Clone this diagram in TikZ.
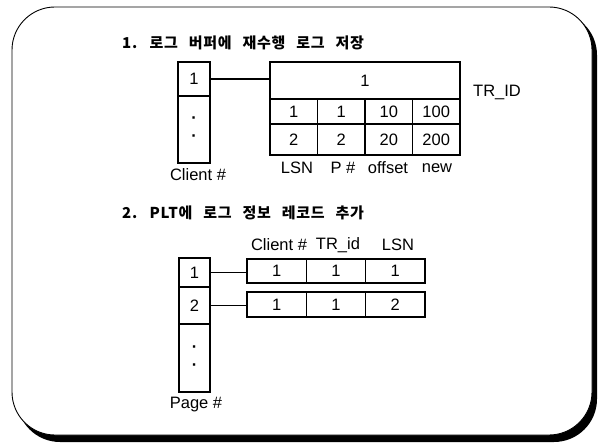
\documentclass[tikz,border=0pt]{standalone}
\usepackage{fontspec}
\setmainfont{Liberation Sans}
\newfontfamily\kor[LetterSpace=5,WordSpace=2.6]{Noto Sans CJK KR}
\usepackage{tikz}

\begin{document}
\begin{tikzpicture}[x=1pt,y=-1pt,
        cell/.style={draw, line width=1.4pt, inner sep=0pt, font=\fontsize{16.5}{19}\selectfont},
        lbl/.style={inner sep=0pt, font=\fontsize{16.5}{19}\selectfont},
        ttl/.style={anchor=west, inner sep=0pt, font=\kor\bfseries\fontsize{15}{18}\selectfont},
        link/.style={line width=1.4pt}]
        \useasboundingbox (0,0) rectangle (602,443);
        \fill[rounded corners=43pt] (17,12) rectangle (597,442);
        \draw[fill=white, line width=0.9pt, rounded corners=43pt] (12,7) rectangle (592,435);

        \node[ttl] (t1) at (122,43) {1. 로그 버퍼에 재수행 로그 저장};
        \node[cell, minimum width=32pt, minimum height=34pt] (c1) at (194,79) {1};
        \node[cell, minimum width=32pt, minimum height=67pt, align=center] (cd) at (194,129.5) {\textbf{·}\\[-1pt]\textbf{·}};
        \node[lbl] (cl) at (198,175) {Client \#};

        \node[cell, minimum width=190pt, minimum height=37pt] (tr) at (365,80.5) {1};
        \node[cell, minimum width=47.5pt, minimum height=25pt] (a1) at (293.75,111.5) {1};
        \node[cell, minimum width=47.5pt, minimum height=25pt] (a2) at (341.25,111.5) {1};
        \node[cell, minimum width=47.5pt, minimum height=25pt] (a3) at (388.75,111.5) {10};
        \node[cell, minimum width=47.5pt, minimum height=25pt] (a4) at (436.25,111.5) {100};
        \node[cell, minimum width=47.5pt, minimum height=31pt] (b1) at (293.75,139.5) {2};
        \node[cell, minimum width=47.5pt, minimum height=31pt] (b2) at (341.25,139.5) {2};
        \node[cell, minimum width=47.5pt, minimum height=31pt] (b3) at (388.75,139.5) {20};
        \node[cell, minimum width=47.5pt, minimum height=31pt] (b4) at (436.25,139.5) {200};
        \node[lbl, anchor=west] (trid) at (473,92) {TR\_ID};
        \node[lbl] (lsn) at (297,168) {LSN};
        \node[lbl] (pn) at (343,168) {P \#};
        \node[lbl] (off) at (388,168) {offset};
        \node[lbl] (new) at (437,168) {new};
        \draw[link] (c1.east) -- (c1.east -| tr.west);

        \node[ttl] (t2) at (122,213) {2. PLT에 로그 정보 레코드 추가};
        \node[lbl] (hc) at (279,245) {Client \#};
        \node[lbl] (ht) at (338,245) {TR\_id};
        \node[lbl] (hl) at (398,245) {LSN};

        \node[cell, minimum width=31pt, minimum height=29pt] (p1) at (194.5,272.5) {1};
        \node[cell, minimum width=31pt, minimum height=37pt] (p2) at (194.5,305.5) {2};
        \node[cell, minimum width=31pt, minimum height=68pt, align=center] (pd) at (194.5,358) {\textbf{·}\\[-1pt]\textbf{·}};
        \node[lbl] (pl) at (196,405) {Page \#};

        \node[cell, minimum width=59.33pt, minimum height=24pt] (r1a) at (276.67,271) {1};
        \node[cell, minimum width=59.33pt, minimum height=24pt] (r1b) at (336,271) {1};
        \node[cell, minimum width=59.33pt, minimum height=24pt] (r1c) at (395.33,271) {1};
        \node[cell, minimum width=59.33pt, minimum height=25pt] (r2a) at (276.67,304.5) {1};
        \node[cell, minimum width=59.33pt, minimum height=25pt] (r2b) at (336,304.5) {1};
        \node[cell, minimum width=59.33pt, minimum height=25pt] (r2c) at (395.33,304.5) {2};
        \draw[link] (p1.east) -- (p1.east -| r1a.west);
        \draw[link] (p2.east) -- (p2.east -| r2a.west);
\end{tikzpicture}
\end{document}
